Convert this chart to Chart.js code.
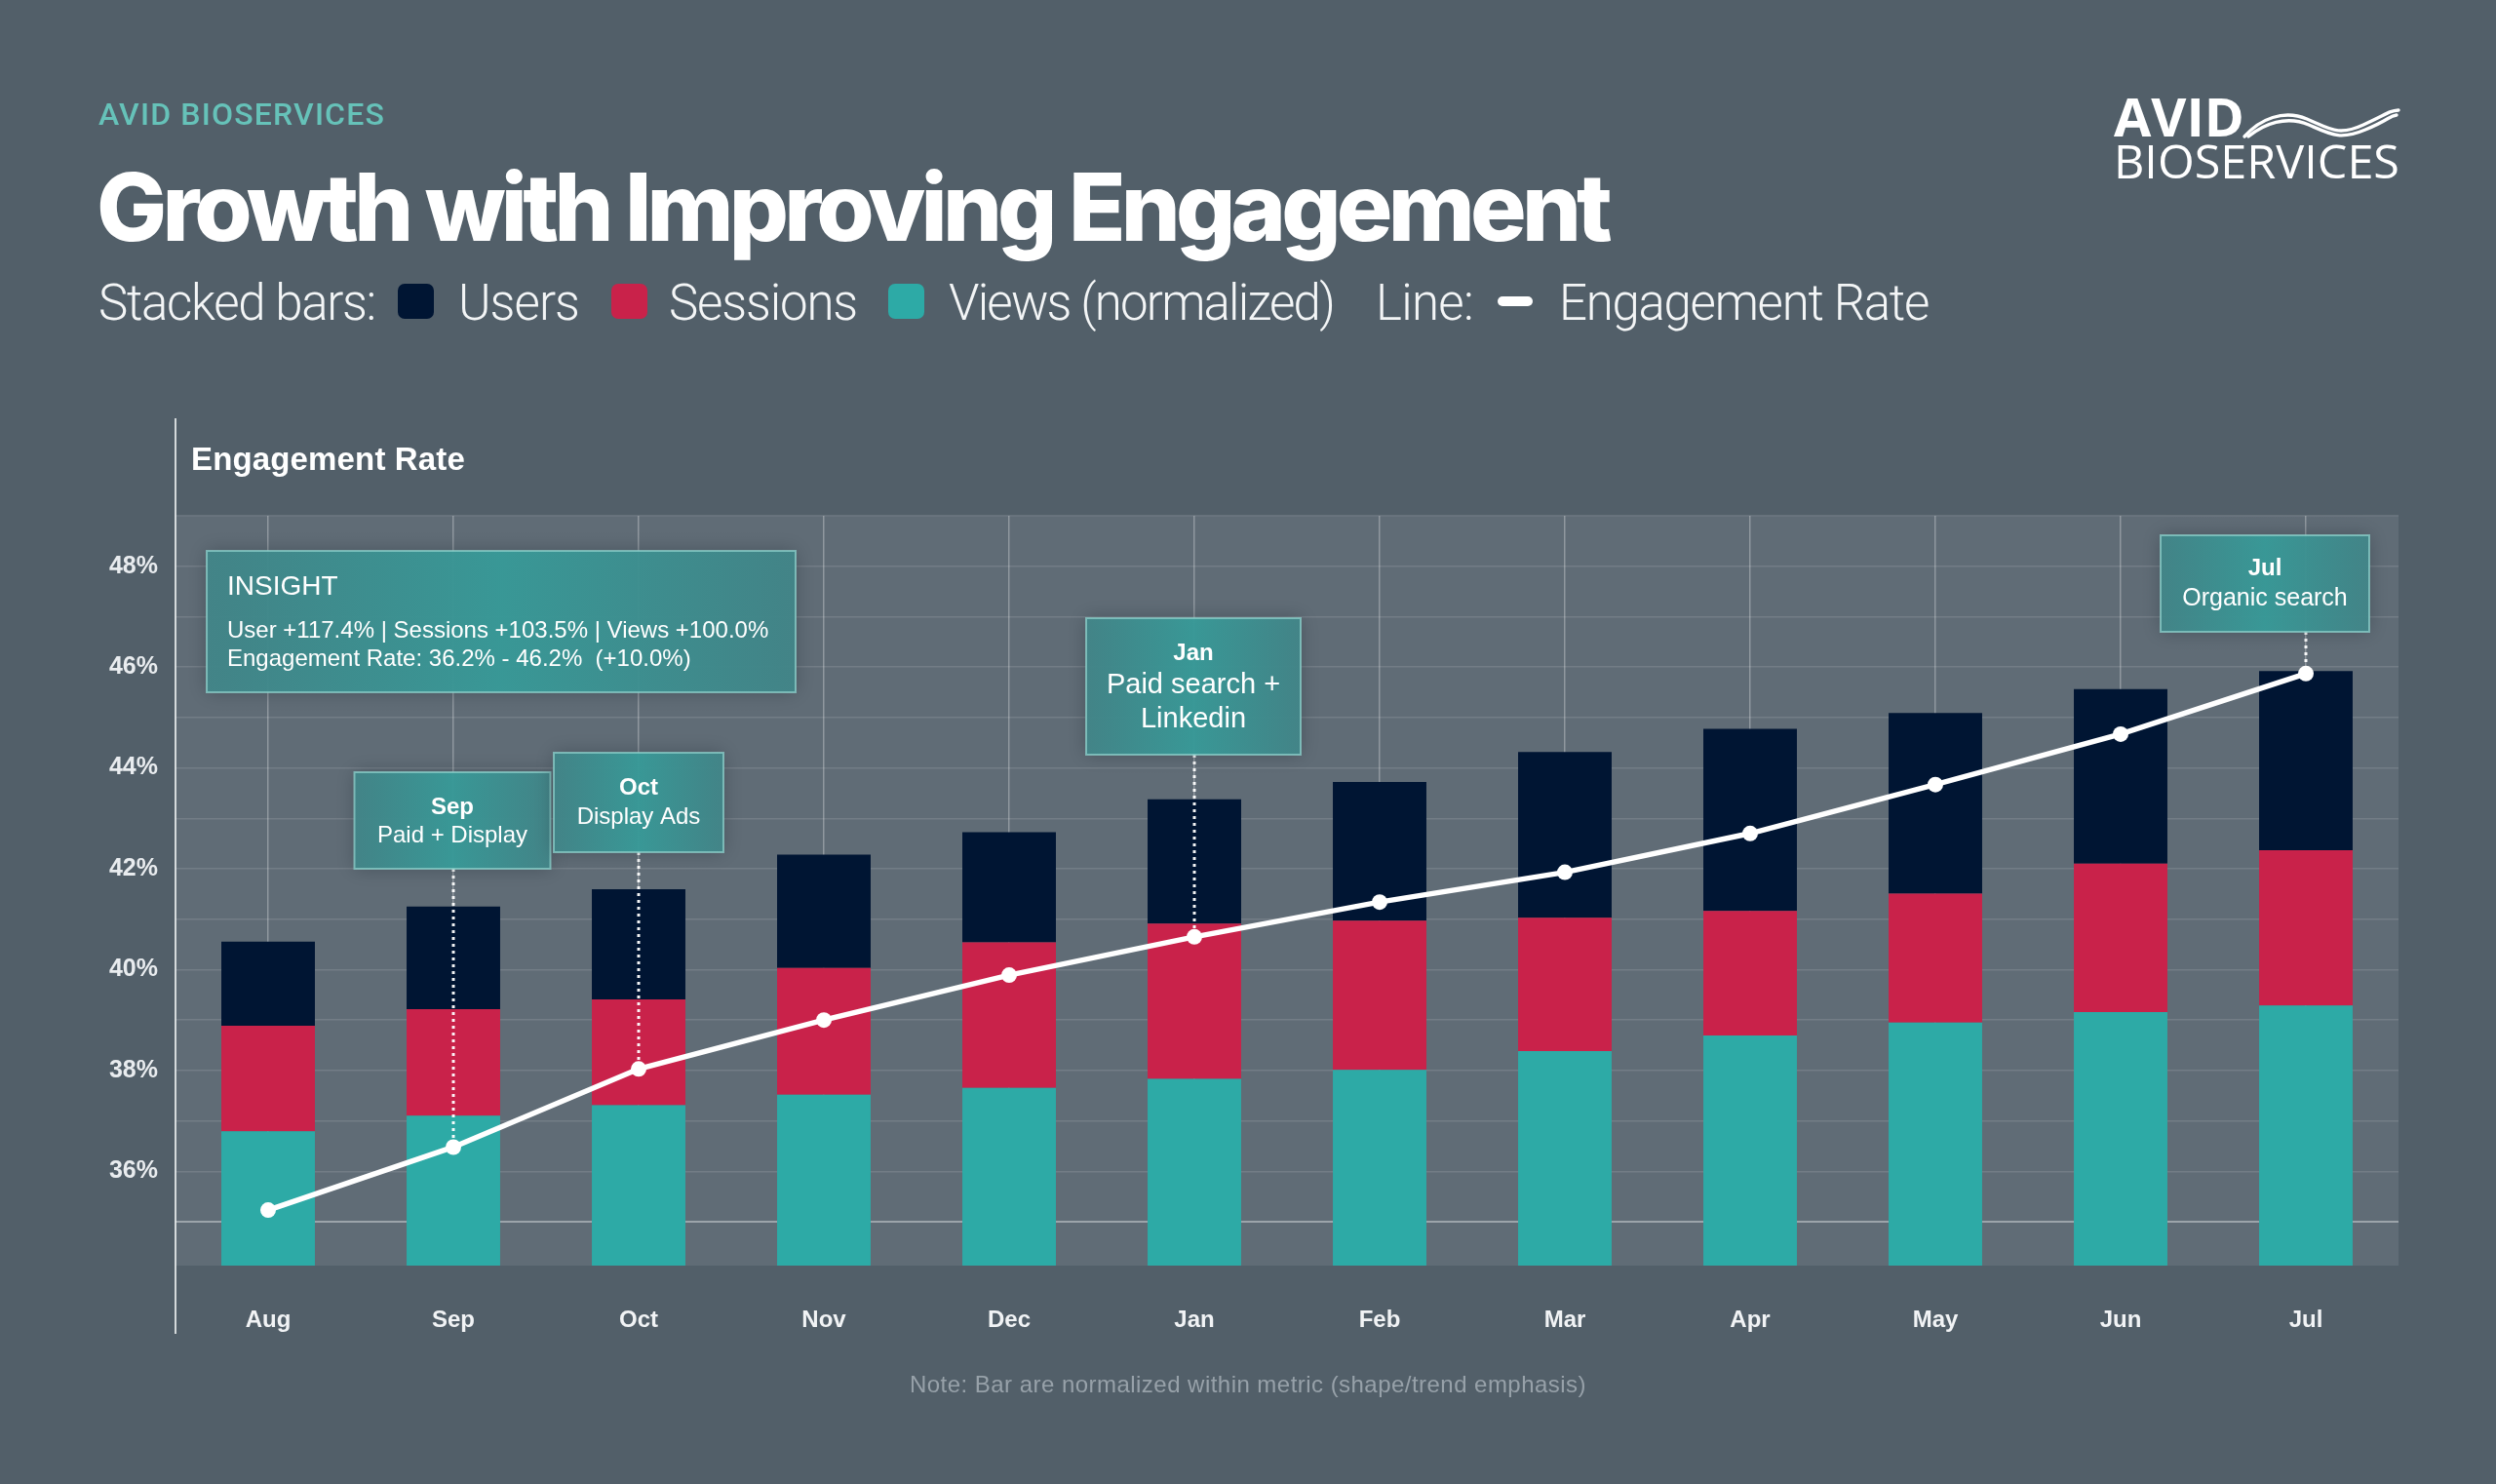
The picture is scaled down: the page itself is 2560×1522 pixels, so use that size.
<!DOCTYPE html>
<html>
<head>
<meta charset="utf-8">
<script src="https://cdn.jsdelivr.net/npm/chart.js@4.4.0/dist/chart.umd.min.js"></script>
<style>
  html, body { margin: 0; padding: 0; }
  body { width: 2560px; height: 1522px; background: #525f69; position: relative; overflow: hidden; font-family: "Liberation Sans", Arial, sans-serif; }
  #chart { position: absolute; left: 0; top: 0; }
  .t { position: absolute; white-space: nowrap; line-height: 1; transform: translateY(-50%); }
  .brand { left: 101px; top: 117px; font-family: Roboto, sans-serif; font-weight: 500; font-size: 32px; color: #66c2b9; }
  .title { left: 99px; top: 212px; font-family: Inter, sans-serif; font-weight: 800; font-size: 96px; color: #ffffff; }
  .leg { top: 310px; font-family: Roboto, sans-serif; font-weight: 300; font-size: 51px; color: #f3f5f6; }
  .sw { position: absolute; top: 291px; width: 37px; height: 36px; border-radius: 7px; }
  .lsw { position: absolute; left: 1536px; top: 304px; width: 36px; height: 10px; border-radius: 5px; background: #ffffff; }
  .axt { left: 196px; top: 470px; font-weight: 700; font-size: 33px; color: #ffffff; }
  .note { top: 1420px; font-size: 24px; color: #97a1a9; }
  #logo { position: absolute; left: 2150px; top: 80px; }
</style>
</head>
<body>
<canvas id="chart" width="2560" height="1522"></canvas>

<div class="t brand" data-w="294">AVID BIOSERVICES</div>
<div class="t title" data-w="1550">Growth with Improving Engagement</div>

<div class="t leg" style="left:101px" data-w="284">Stacked bars:</div>
<div class="sw" style="left:408px;background:#001533"></div>
<div class="t leg" style="left:470px" data-w="124">Users</div>
<div class="sw" style="left:627px;background:#c9224a"></div>
<div class="t leg" style="left:686px" data-w="193">Sessions</div>
<div class="sw" style="left:911px;background:#2daaa6"></div>
<div class="t leg" style="left:973px" data-w="395">Views (normalized)</div>
<div class="t leg" style="left:1411px" data-w="100">Line:</div>
<div class="lsw"></div>
<div class="t leg" style="left:1599px" data-w="379">Engagement Rate</div>

<div class="t axt" data-w="281">Engagement Rate</div>
<div class="t note" id="note" data-w="694">Note: Bar are normalized within metric (shape/trend emphasis)</div>

<svg id="logo" width="330" height="120" viewBox="2150 80 330 120">
  <text x="2168" y="140" font-family="Open Sans, sans-serif" font-weight="700" font-size="54" fill="#fff" textLength="134" lengthAdjust="spacingAndGlyphs">AVID</text>
  <text x="2168" y="183" font-family="Open Sans, sans-serif" font-weight="500" font-size="47" fill="#fff" textLength="293" lengthAdjust="spacingAndGlyphs">BIOSERVICES</text>
  <g fill="none" stroke="#fff" stroke-width="3.4" stroke-linecap="round">
    <path d="M2302,140 C2318,122 2342,112 2366,122 S2398,140 2424,128 S2450,114 2460,113"/>
    <path d="M2306,140 C2322,127 2345,118 2368,128 S2400,144 2426,133 S2450,119 2458,118"/>
  </g>
</svg>

<script>
// months on the x axis
const MONTHS = ['Aug', 'Sep', 'Oct', 'Nov', 'Dec', 'Jan', 'Feb', 'Mar', 'Apr', 'May', 'Jun', 'Jul'];

// normalized bar segments (share of the plot height, 0-100)
const VIEWS    = [17.9, 20.0, 21.4, 22.8, 23.7, 24.9, 26.1, 28.6, 30.7, 32.4, 33.8, 34.7];
const SESSIONS = [14.1, 14.2, 14.1, 16.9, 19.4, 20.7, 19.9, 17.8, 16.6, 17.2, 19.8, 20.7];
const USERS    = [11.2, 13.7, 14.7, 15.1, 14.7, 16.6, 18.5, 22.1, 24.3, 24.1, 23.3, 23.9];

// engagement rate (%)
const ENGAGEMENT = [35.23, 36.48, 38.03, 39.0, 39.89, 40.65, 41.34, 41.93, 42.70, 43.67, 44.67, 45.87];

// rate axis
const RATE_MIN = 34.13;
const RATE_MAX = 49;
const RATE_GRID = [35, 36, 37, 38, 39, 40, 41, 42, 43, 44, 45, 46, 47, 48, 49];
const RATE_LABELS = [36, 38, 40, 42, 44, 46, 48];

const COLORS = { users: '#001533', sessions: '#c9224a', views: '#2daaa6', plot: '#606c76' };

// callouts: box geometry in page pixels, anchored to a month point
const CALLOUTS = [
    { month: 'Sep', dx: -1, top: 792, w: 201, h: 99,
      lines: [['Sep', 'bold 24px', 828], ['Paid + Display', '24px', 857]] },
    { month: 'Oct', dx: 0, top: 772, w: 174, h: 102,
      lines: [['Oct', 'bold 24px', 808], ['Display Ads', '24px', 838]] },
    { month: 'Jan', dx: -1, top: 634, w: 220, h: 140,
      lines: [['Jan', 'bold 24px', 670], ['Paid search +', '29px', 703], ['Linkedin', '29px', 738]] },
    { month: 'Jul', dx: -42, top: 549, w: 214, h: 99,
      lines: [['Jul', 'bold 24px', 583], ['Organic search', '25px', 614]] }
];

const INSIGHT = {
    x: 212, y: 565, w: 604, h: 145,
    lines: [['INSIGHT', '28px', 602],
            ['User +117.4% | Sessions +103.5% | Views +100.0%', '24px', 647],
            ['Engagement Rate: 36.2% - 46.2%  (+10.0%)', '24px', 676]]
};

// stretch/squeeze header texts to the widths seen in the reference
document.querySelectorAll('[data-w]').forEach(el => {
    const n = el.textContent.length;
    const w = el.getBoundingClientRect().width;
    el.style.letterSpacing = ((+el.dataset.w - w) / n) + 'px';
});
const note = document.getElementById('note');
note.style.left = (1280 - note.getBoundingClientRect().width / 2) + 'px';

function drawBox(ctx, x, y, w, h) {
    ctx.save();
    ctx.shadowColor = 'rgba(20,30,40,0.35)';
    ctx.shadowBlur = 18;
    const g = ctx.createLinearGradient(x, 0, x + w, 0);
    g.addColorStop(0, 'rgba(66,134,137,0.95)');
    g.addColorStop(0.5, 'rgba(56,155,153,0.95)');
    g.addColorStop(1, 'rgba(66,134,137,0.95)');
    ctx.fillStyle = g;
    ctx.fillRect(x, y, w, h);
    ctx.restore();
    ctx.save();
    ctx.strokeStyle = 'rgba(140,208,203,0.75)';
    ctx.lineWidth = 2;
    ctx.strokeRect(x, y, w, h);
    ctx.restore();
}

const decor = {
    id: 'decor',
    beforeDraw(chart) {
        const { ctx, chartArea: a } = chart;
        ctx.save();
        ctx.fillStyle = COLORS.plot;
        ctx.fillRect(a.left, a.top, a.right - a.left, a.bottom - a.top);
        ctx.restore();
    },
    beforeDatasetDraw(chart, args) {
        if (args.meta.type !== 'line') return;
        const { ctx } = chart;
        const xs = chart.scales.x, ys = chart.scales.y;
        CALLOUTS.forEach(c => {
            const i = MONTHS.indexOf(c.month);
            const px = xs.getPixelForValue(i);
            const py = ys.getPixelForValue(ENGAGEMENT[i]);
            ctx.save();
            ctx.strokeStyle = 'rgba(255,255,255,0.95)';
            ctx.lineWidth = 3;
            ctx.setLineDash([3, 4]);
            ctx.beginPath();
            ctx.moveTo(px, c.top + c.h);
            ctx.lineTo(px, py);
            ctx.stroke();
            ctx.restore();
            const bx = px + c.dx - c.w / 2;
            drawBox(ctx, bx, c.top, c.w, c.h);
            ctx.save();
            ctx.fillStyle = '#ffffff';
            ctx.textAlign = 'center';
            ctx.textBaseline = 'middle';
            c.lines.forEach(([t, f, ty]) => {
                ctx.font = f + ' "Liberation Sans", Arial, sans-serif';
                ctx.fillText(t, bx + c.w / 2, ty);
            });
            ctx.restore();
        });
        drawBox(ctx, INSIGHT.x, INSIGHT.y, INSIGHT.w, INSIGHT.h);
        ctx.save();
        ctx.fillStyle = '#ffffff';
        ctx.textAlign = 'left';
        ctx.textBaseline = 'middle';
        INSIGHT.lines.forEach(([t, f, ty]) => {
            ctx.font = f + ' "Liberation Sans", Arial, sans-serif';
            ctx.fillText(t, INSIGHT.x + 21, ty);
        });
        ctx.restore();
    },
    afterDraw(chart) {
        const { ctx, chartArea: a } = chart;
        ctx.save();
        ctx.strokeStyle = 'rgba(235,238,240,0.85)';
        ctx.lineWidth = 2;
        ctx.beginPath();
        ctx.moveTo(a.left, 429);
        ctx.lineTo(a.left, 1368);
        ctx.stroke();
        ctx.restore();
    }
};

new Chart(document.getElementById('chart').getContext('2d'), {
    data: {
        labels: MONTHS,
        datasets: [
            { type: 'line', label: 'Engagement Rate', data: ENGAGEMENT, yAxisID: 'y', order: 0,
              borderColor: '#ffffff', borderWidth: 5.5, pointRadius: 8, pointHoverRadius: 8,
              pointBackgroundColor: '#ffffff', pointBorderWidth: 0, tension: 0 },
            { type: 'bar', label: 'Views (normalized)', data: VIEWS, yAxisID: 'yb', order: 1,
              backgroundColor: COLORS.views, barPercentage: 0.505, categoryPercentage: 1 },
            { type: 'bar', label: 'Sessions', data: SESSIONS, yAxisID: 'yb', order: 1,
              backgroundColor: COLORS.sessions, barPercentage: 0.505, categoryPercentage: 1 },
            { type: 'bar', label: 'Users', data: USERS, yAxisID: 'yb', order: 1,
              backgroundColor: COLORS.users, barPercentage: 0.505, categoryPercentage: 1 }
        ]
    },
    options: {
        responsive: false,
        devicePixelRatio: 1,
        animation: false,
        layout: { padding: { left: 0, top: 529, right: 100, bottom: 0 } },
        plugins: { legend: { display: false }, tooltip: { enabled: false } },
        scales: {
            x: {
                stacked: true,
                offset: true,
                grid: { offset: false, color: 'rgba(255,255,255,0.3)', lineWidth: 1.5, drawTicks: false },
                border: { display: false },
                ticks: { color: '#f1f3f5', padding: 42, font: { family: '"Liberation Sans", Arial, sans-serif', size: 24, weight: 'bold' } },
                afterFit: s => { s.height = 224; }
            },
            y: {
                position: 'left',
                min: RATE_MIN,
                max: RATE_MAX,
                afterBuildTicks: s => { s.ticks = RATE_GRID.map(v => ({ value: v })); },
                grid: {
                    drawTicks: false,
                    color: c => c.tick && c.tick.value === 35 ? 'rgba(255,255,255,0.38)' : 'rgba(255,255,255,0.12)',
                    lineWidth: c => c.tick && c.tick.value === 35 ? 2 : 1.5
                },
                border: { display: false },
                ticks: {
                    color: '#e9ecef', padding: 18,
                    font: { family: '"Liberation Sans", Arial, sans-serif', size: 25, weight: 'bold' },
                    callback: v => RATE_LABELS.includes(v) ? v + '%' : ''
                },
                afterFit: s => { s.width = 180; }
            },
            yb: { display: false, stacked: true, min: 0, max: 100 }
        }
    },
    plugins: [decor]
});
</script>
</body>
</html>
